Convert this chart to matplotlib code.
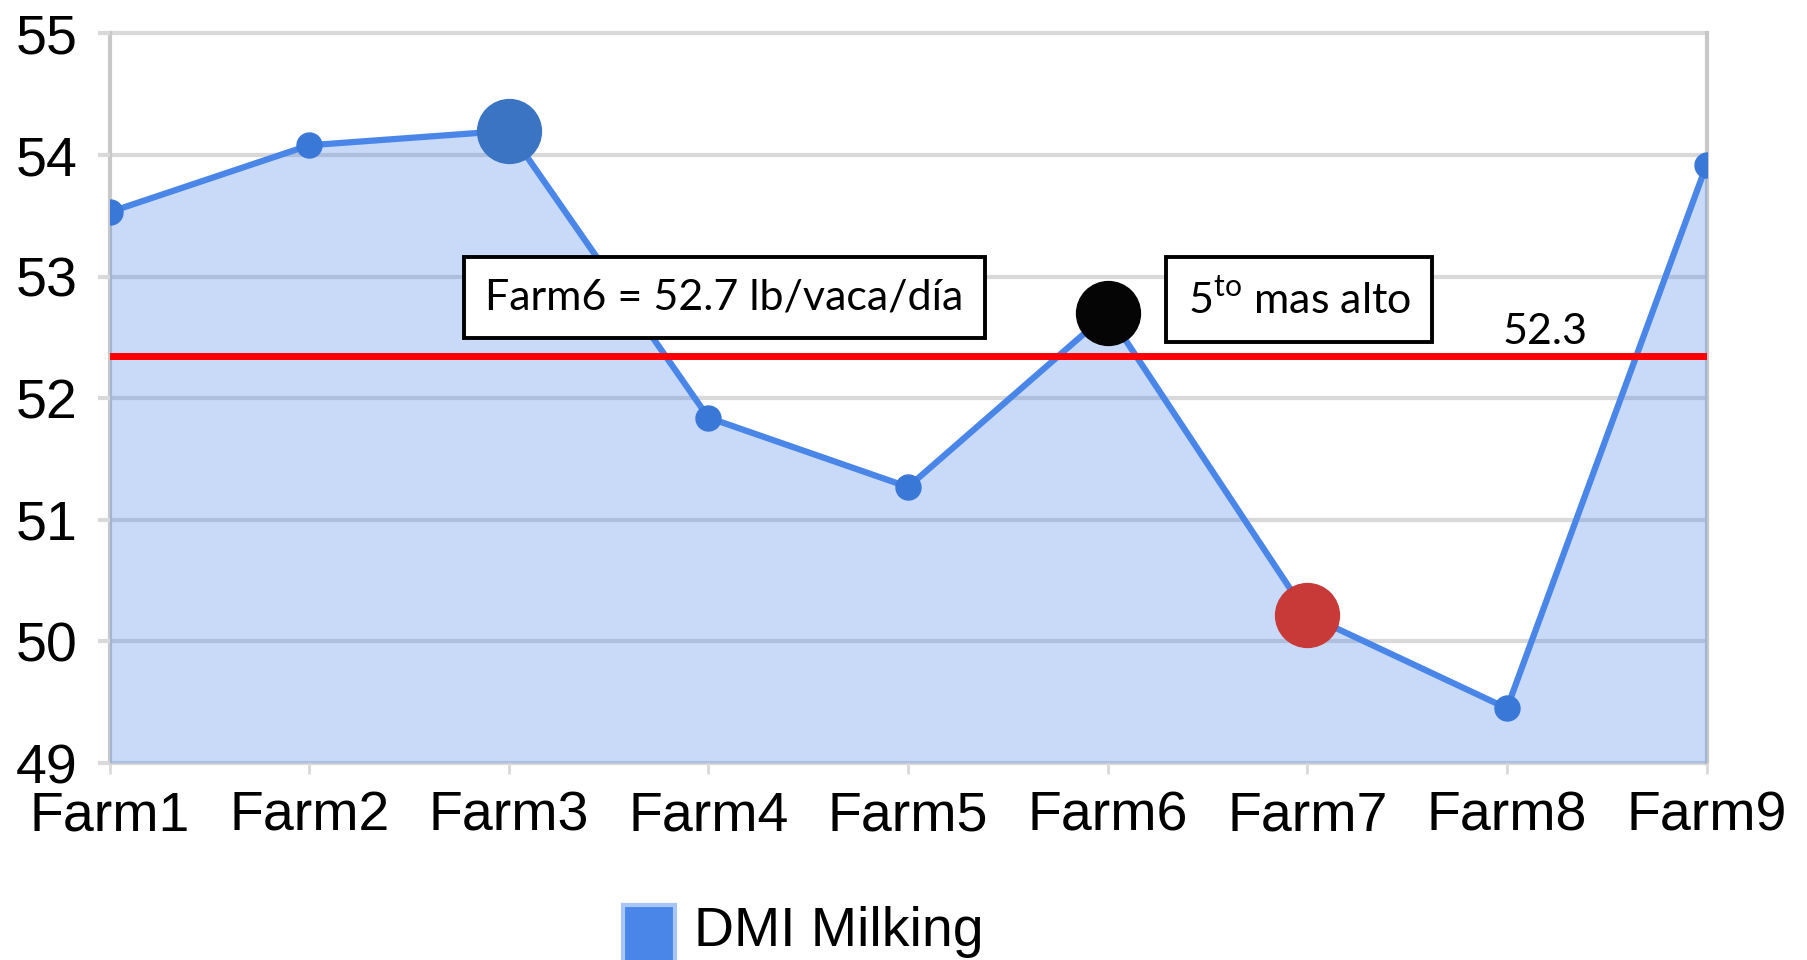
import matplotlib
matplotlib.use("Agg")
import matplotlib.pyplot as plt
from matplotlib.patches import Rectangle
import numpy as np

# Data
farms = ['Farm1', 'Farm2', 'Farm3', 'Farm4', 'Farm5', 'Farm6', 'Farm7', 'Farm8', 'Farm9']
dmi_milking = [53.53, 54.08, 54.2, 51.84, 51.27, 52.7, 50.22, 49.45, 53.92]
herd_avg = 52.35
avg_label = '52.3'
highlight_farms = ['Farm3', 'Farm6', 'Farm7']
highlight_colors = ['#3a74c2', '#050505', '#c73a38']
y_ticks = [49, 50, 51, 52, 53, 54, 55]

plt.rcParams['font.family'] = ['Liberation Sans', 'DejaVu Sans']
plt.rcParams['mathtext.fontset'] = 'custom'
plt.rcParams['mathtext.rm'] = 'Lato'

blue = '#4a86e8'
grid_col = '#d9d9d9'

fig = plt.figure(figsize=(18.08, 9.6), dpi=100)
ax = fig.add_axes([0.0606, 0.2052, 0.8833, 0.760])

x = np.arange(len(farms))
ax.set_xlim(0, len(farms) - 1)
ax.set_ylim(y_ticks[0], y_ticks[-1])

# grid and frame (drawn under the fill)
for t in y_ticks:
    ax.axhline(t, color=grid_col, lw=3, zorder=0, clip_on=False)
ax.axvline(0, color='#c8c8c8', lw=3, zorder=0, clip_on=False)
ax.axvline(len(farms) - 1, color='#c8c8c8', lw=3, zorder=0, clip_on=False)
for s in ax.spines.values():
    s.set_visible(False)

# area + line
ax.fill_between(x, dmi_milking, y_ticks[0], color=blue, alpha=0.3, lw=0, zorder=1)
ax.plot(x, dmi_milking, color=blue, lw=4.5, marker='o', ms=18,
        mfc='#3a78d8', mec='#3a78d8', zorder=3)

# herd average
ax.axhline(herd_avg, color='#ff0000', lw=5, zorder=4)
ax.text(7.19, herd_avg + 0.04, avg_label, family='Lato', fontsize=31,
        ha='center', va='bottom', zorder=6)

# highlighted farms
for f, c in zip(highlight_farms, highlight_colors):
    i = farms.index(f)
    ax.scatter(i, dmi_milking[i], s=46 ** 2, color=c, edgecolor=c,
               linewidth=1, zorder=5)

# annotation boxes
box = dict(boxstyle='square,pad=0.5', fc='white', ec='black', lw=2.8)
ax.text(3.08, 52.83, 'Farm6 = 52.7 lb/vaca/día', family='Lato', fontsize=31,
        ha='center', va='center', bbox=box, zorder=6)
ax.text(5.96, 52.81, r'5$^{\mathrm{to}}$ mas alto', family='Lato', fontsize=31,
        ha='center', va='center', bbox=box, zorder=6)

# ticks
ax.set_yticks(y_ticks)
ax.set_xticks(x)
ax.set_xticklabels(farms)
ax.tick_params(axis='y', length=9, width=3, color=grid_col, pad=14, labelsize=40)
ax.tick_params(axis='x', length=8, width=2, color=grid_col, pad=12, labelsize=40)

# legend at the bottom
fig.add_artist(Rectangle((623 / 1808, -0.01), 52 / 1808, 0.067,
                         transform=fig.transFigure, fc=blue, ec='#a8c6f5', lw=3))
fig.text(694 / 1808, 14 / 960, 'DMI Milking', fontsize=40, va='baseline', ha='left')

fig.savefig('out.png', dpi=100)
